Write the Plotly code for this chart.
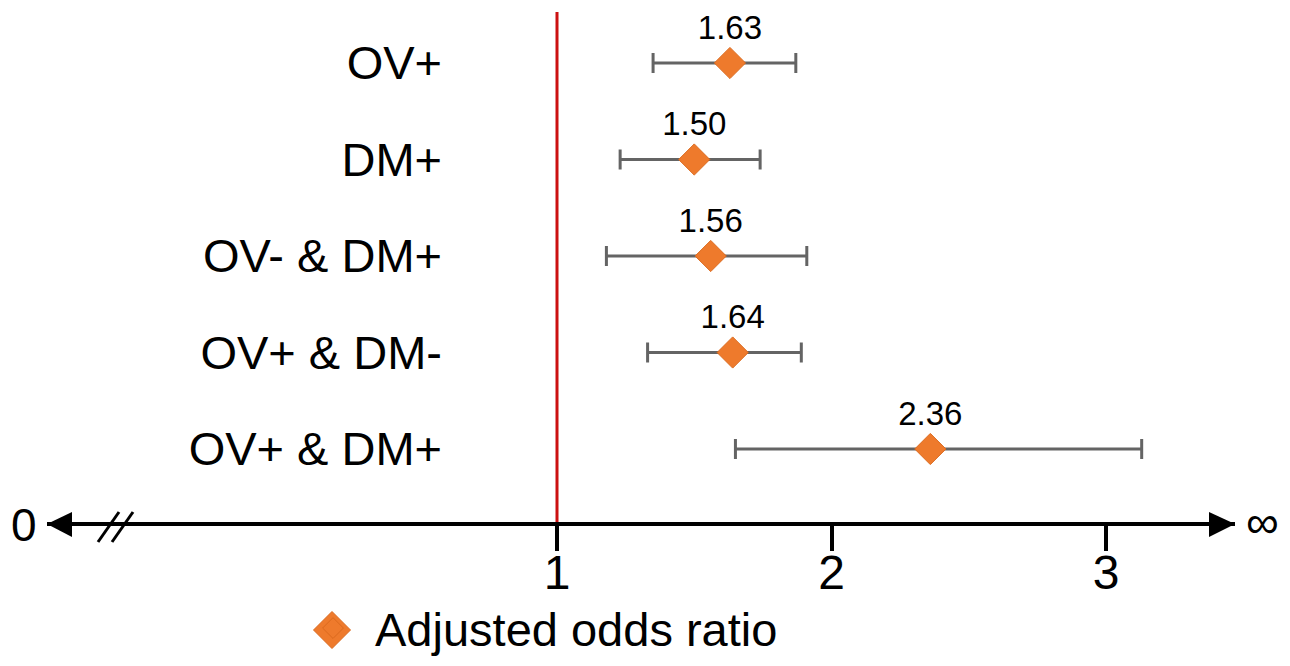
import plotly.graph_objects as go

# ---- data ----
categories = ["OV+", "DM+", "OV- & DM+", "OV+ & DM-", "OV+ & DM+"]
odds_ratio = [1.63, 1.50, 1.56, 1.64, 2.36]
ci_lower = [1.35, 1.23, 1.18, 1.33, 1.65]
ci_upper = [1.87, 1.74, 1.91, 1.89, 3.13]
tick_values = [1, 2, 3]
tick_labels = ["1", "2", "3"]
legend_name = "Adjusted odds ratio"

W, H = 1290, 666
FONT = "Liberation Sans, Arial, sans-serif"
ORANGE = "#EE7A2C"
ORANGE_EDGE = "#DB6A1E"

err_plus = [u - o for u, o in zip(ci_upper, odds_ratio)]
err_minus = [o - l for o, l in zip(odds_ratio, ci_lower)]

fig = go.Figure()

# error bars + value labels (transparent marker)
fig.add_trace(go.Scatter(
    x=odds_ratio, y=categories, mode="markers+text",
    marker=dict(size=24, color="rgba(0,0,0,0)", symbol="diamond"),
    text=[f"{v:.2f}" for v in odds_ratio], textposition="top center",
    textfont=dict(size=33, color="black", family=FONT),
    error_x=dict(type="data", symmetric=False, array=err_plus, arrayminus=err_minus,
                 color="#646464", thickness=3, width=10),
    showlegend=False, hoverinfo="skip", cliponaxis=False,
))

# diamond markers
fig.add_trace(go.Scatter(
    x=odds_ratio, y=categories, mode="markers", name=legend_name,
    marker=dict(size=24, color=ORANGE, symbol="diamond",
                line=dict(color=ORANGE_EDGE, width=1)),
    cliponaxis=False,
))

px2x = lambda p: p / W
py2y = lambda p: 1 - p / H

axis_y = py2y(524)

# legend symbol enlargement (legend caps marker size)
lcx, lcy, lr = 332, 630, 18.5

shapes = [
    # reference line at OR = 1
    dict(type="line", xref="x", yref="paper", x0=1, x1=1, y0=axis_y, y1=py2y(12),
         line=dict(color="#CC1111", width=3), layer="below"),
    # arrowheads
    dict(type="path", xref="paper", yref="paper",
         path=f"M {px2x(47)} {py2y(524)} L {px2x(72)} {py2y(512)} L {px2x(72)} {py2y(537)} Z",
         fillcolor="black", line=dict(width=0)),
    dict(type="path", xref="paper", yref="paper",
         path=f"M {px2x(1235)} {py2y(524)} L {px2x(1209)} {py2y(512)} L {px2x(1209)} {py2y(537)} Z",
         fillcolor="black", line=dict(width=0)),
    # axis break //
    dict(type="line", xref="paper", yref="paper", x0=px2x(98), y0=py2y(542), x1=px2x(119), y1=py2y(512),
         line=dict(color="black", width=3)),
    dict(type="line", xref="paper", yref="paper", x0=px2x(112), y0=py2y(542), x1=px2x(133), y1=py2y(512),
         line=dict(color="black", width=3)),
    # legend diamond
    dict(type="path", xref="paper", yref="paper",
         path=(f"M {px2x(lcx - lr)} {py2y(lcy)} L {px2x(lcx)} {py2y(lcy - lr)} "
               f"L {px2x(lcx + lr)} {py2y(lcy)} L {px2x(lcx)} {py2y(lcy + lr)} Z"),
         fillcolor=ORANGE, line=dict(color=ORANGE_EDGE, width=1)),
]

annotations = [
    dict(text="0", xref="paper", yref="paper", x=px2x(24), y=py2y(525), showarrow=False,
         xanchor="center", yanchor="middle", font=dict(size=46, color="black", family=FONT)),
    dict(text="∞", xref="paper", yref="paper", x=px2x(1262), y=py2y(522), showarrow=False,
         xanchor="center", yanchor="middle", font=dict(size=46, color="black", family=FONT)),
]

fig.update_layout(
    width=W, height=H,
    margin=dict(l=0, r=0, t=0, b=0, autoexpand=False),
    paper_bgcolor="white", plot_bgcolor="white",
    font=dict(family=FONT, color="black"),
    xaxis=dict(
        domain=[47 / W, 1235 / W],
        range=[1 - 510 / 274.5, 1 + 678 / 274.5],
        anchor="free", position=axis_y,
        showline=True, linecolor="black", linewidth=4,
        ticks="outside", ticklen=25, tickwidth=4, tickcolor="black",
        tickvals=tick_values, ticktext=tick_labels,
        tickfont=dict(size=48, color="black", family=FONT),
        ticklabelstandoff=-20,
        showgrid=False, zeroline=False, automargin=False,
    ),
    yaxis=dict(
        type="category", categoryorder="array", categoryarray=categories[::-1],
        range=[-217 / 96.5, 449 / 96.5],
        anchor="free", position=442 / W,
        showline=False, ticks="", showgrid=False, zeroline=False, automargin=False,
        tickfont=dict(size=47, color="black", family=FONT),
    ),
    legend=dict(orientation="h", x=px2x(291), y=0, xanchor="left", yanchor="bottom",
                itemwidth=74, borderwidth=0,
                font=dict(size=47, color="black", family=FONT), bgcolor="rgba(0,0,0,0)"),
    shapes=shapes, annotations=annotations,
)

fig.write_html("out.html", post_script="document.body.style.margin='0px';",
               config={"displayModeBar": False})
